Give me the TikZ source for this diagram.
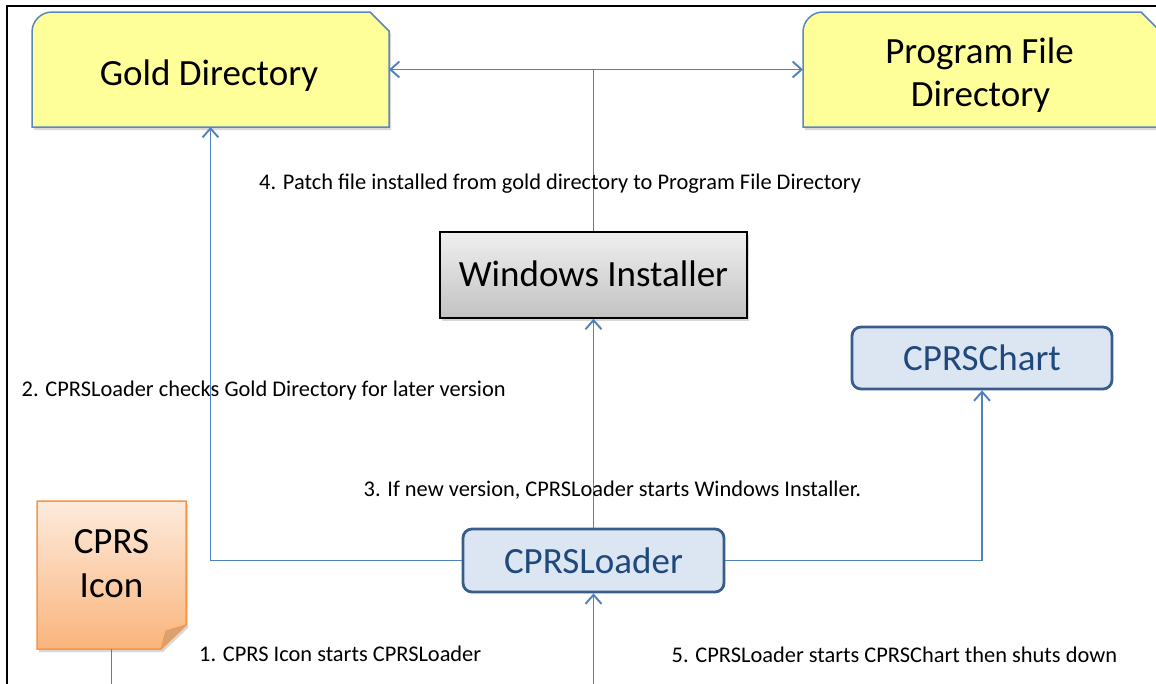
\documentclass[tikz,border=0pt]{standalone}
\usepackage{fontspec}
\setmainfont{Carlito}
\usetikzlibrary{arrows.meta,calc,shadows,backgrounds}
\definecolor{cblue}{HTML}{4F81BD}
\definecolor{boxborder}{HTML}{385D8A}
\definecolor{boxfill}{HTML}{DCE6F2}
\definecolor{boxtext}{HTML}{1F497D}
\definecolor{diryellow}{HTML}{FFFF99}
\definecolor{dirborder}{HTML}{5B86BF}
\definecolor{icontop}{HTML}{FDEBDD}
\definecolor{iconbot}{HTML}{FAB47C}
\definecolor{iconborder}{HTML}{F79646}
\definecolor{iconfold}{HTML}{D6A276}
\begin{document}
\begin{tikzpicture}[x=1pt,y=-1pt,
  conn/.style={draw=cblue, line width=1.9pt},
  arr/.style={conn,-{Straight Barb[length=9pt,width=16pt,line width=1.9pt]}},
  holder/.style={inner sep=0pt, outer sep=0pt},
  bigtxt/.style={font=\fontsize{37}{44}\selectfont, inner sep=0pt, anchor=base},
  dirshape/.style={fill=diryellow, draw=dirborder, line width=1.5pt,
     drop shadow={opacity=0.3, shadow xshift=2pt, shadow yshift=-3pt}},
  progbox/.style={draw=boxborder, fill=boxfill, line width=2.8pt, rounded corners=9pt,
     text=boxtext, font=\fontsize{37}{44}\selectfont, inner sep=0pt,
     text height=25.5pt, text depth=0pt},
  lbl/.style={font=\fontsize{22.4}{26}\selectfont, anchor=base west, inner sep=0pt}]
\useasboundingbox (0,0) rectangle (1156,683);

% shape holders and boxes
\node[holder, minimum width=357pt, minimum height=115pt] (gold) at (210.5,69.5) {};
\node[holder, minimum width=357pt, minimum height=115pt] (prog) at (981.5,69.5) {};
\node[holder, minimum width=149pt, minimum height=148pt] (icon) at (111.5,575) {};
\node[draw=black, line width=1.6pt, top color=gray!12, bottom color=gray!48,
      font=\fontsize{37}{44}\selectfont, inner sep=0pt, text height=23.4pt, text depth=0pt,
      minimum width=307pt, minimum height=86pt,
      drop shadow={opacity=0.3, shadow xshift=2pt, shadow yshift=-3pt}] (wi) at (593.5,275) {Windows Installer};
\node[progbox, minimum width=260pt, minimum height=62pt] (chart) at (982,358) {CPRSChart};
\node[progbox, minimum width=261pt, minimum height=63pt] (loader) at (593.5,560.5) {CPRSLoader};

% shapes behind text
\begin{scope}[on background layer]
  \fill[white] (0,0) rectangle (1156,683);
  \draw[dirshape] (gold.south west) -- ($(gold.north west)+(0,20)$)
     .. controls ($(gold.north west)+(0,9)$) and ($(gold.north west)+(9,0)$) .. ($(gold.north west)+(20,0)$)
     -- ($(gold.north east)+(-19,0)$) -- ($(gold.north east)+(0,19)$) -- (gold.south east) -- cycle;
  \draw[dirshape] (prog.south west) -- ($(prog.north west)+(0,20)$)
     .. controls ($(prog.north west)+(0,9)$) and ($(prog.north west)+(9,0)$) .. ($(prog.north west)+(20,0)$)
     -- ($(prog.north east)+(-19,0)$) -- ($(prog.north east)+(0,19)$) -- (prog.south east) -- cycle;
  \draw[top color=icontop, bottom color=iconbot, draw=iconborder, line width=1.5pt,
        drop shadow={opacity=0.3, shadow xshift=2pt, shadow yshift=-3pt}]
     (icon.north west) -- (icon.north east) -- ($(icon.south east)+(0,-24)$)
     -- ($(icon.south east)+(-25,0)$) -- (icon.south west) -- cycle;
  \draw[fill=iconfold, draw=iconborder, line width=1pt, line join=round]
     ($(icon.south east)+(0,-24)$) -- ($(icon.south east)+(-20,-18)$) -- ($(icon.south east)+(-25,0)$);
\end{scope}

% texts of the shaped nodes
\node[bigtxt] (goldtxt) at (209,85) {Gold Directory};
\node[bigtxt] (progtxt1) at (979.5,63) {Program File};
\node[bigtxt] (progtxt2) at (980.5,106.5) {Directory};
\node[bigtxt] (icontxt1) at (111.5,553.3) {CPRS};
\node[bigtxt] (icontxt2) at (111.5,597.3) {Icon};

% frame
\draw[line width=1.6pt] (7,690) -- (7,6) -- (1160,6);

% connectors
\coordinate (j) at (wi.north |- gold.east);
\draw[conn] (wi.north) -- (j);
\draw[arr] (j) -- (gold.east);
\draw[arr] (j) -- (prog.west);
\draw[arr] (loader.north) -- (wi.south);
\draw[arr] (loader.west) -| (gold.south);
\draw[arr] (loader.east) -| (chart.south);
\coordinate (below) at (111.5,720);
\draw[arr] (icon.south) -- (icon.south |- below) -| (loader.south);

% labels
\node[lbl] (l4) at (259,189) {4. Patch file installed from gold directory to Program File Directory};
\node[lbl] (l2) at (21.5,396.7) {2. CPRSLoader checks Gold Directory for later version};
\node[lbl] (l3) at (363.5,496.7) {3. If new version, CPRSLoader starts Windows Installer.};
\node[lbl] (l1) at (199,661.7) {1. CPRS Icon starts CPRSLoader};
\node[lbl] (l5) at (671.5,662) {5. CPRSLoader starts CPRSChart then shuts down};
\end{tikzpicture}
\end{document}
